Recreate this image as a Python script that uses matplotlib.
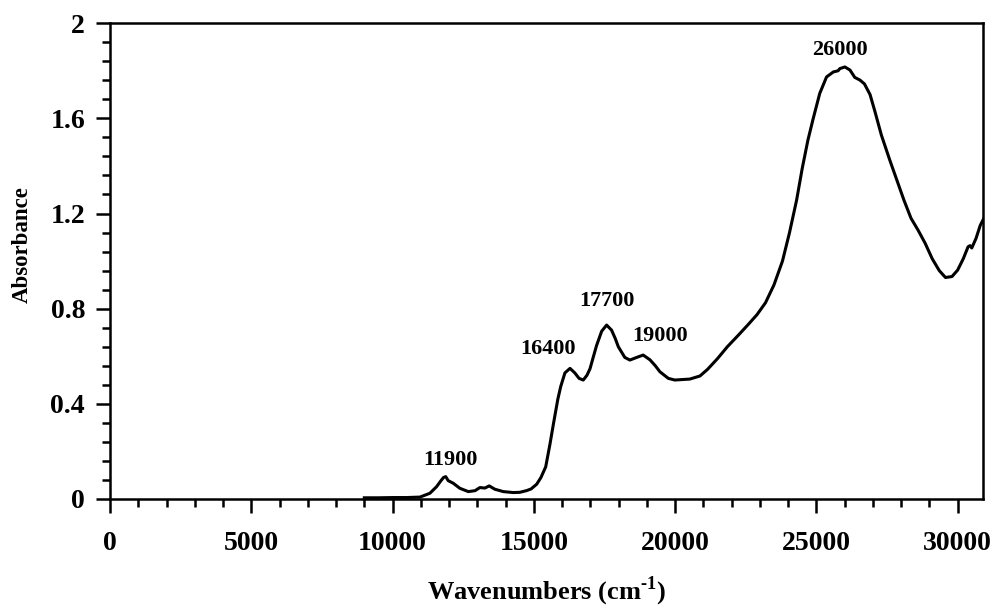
import matplotlib
matplotlib.use("Agg")
import matplotlib.pyplot as plt
from matplotlib.ticker import MultipleLocator

plt.rcParams["font.family"] = "Liberation Serif"
plt.rcParams["font.weight"] = "bold"
plt.rcParams["mathtext.fontset"] = "custom"
plt.rcParams["mathtext.rm"] = "Liberation Serif:bold"
plt.rcParams["mathtext.bf"] = "Liberation Serif:bold"

# absorption spectrum, wavenumber (cm-1) vs absorbance
wavenumber = [
    9000, 9500, 10000, 10500, 10970, 11320, 11560, 11700, 11800, 11880,
    11970, 12150, 12380, 12680, 12920, 13090, 13270, 13420, 13620, 13920,
    14270, 14500, 14740, 14900, 15100, 15250, 15420, 15570, 15700, 15850,
    15950, 16100, 16280, 16450, 16600, 16750, 16880, 16990, 17100, 17220,
    17400, 17575, 17750, 17880, 17990, 18220, 18400, 18640, 18870, 19110,
    19300, 19460, 19760, 19990, 20250, 20520, 20880, 21150, 21500, 21850,
    22250, 22600, 22900, 23200, 23500, 23800, 24050, 24300, 24500, 24700,
    24890, 25120, 25360, 25600, 25770, 25830, 26010, 26190, 26360, 26540,
    26700, 26900, 27070, 27300, 27600, 27850, 28100, 28350, 28600, 28850,
    29100, 29350, 29570, 29800, 30000, 30200, 30370, 30440, 30500, 30650,
    30800, 30950,
]
absorbance = [
    0.005, 0.005, 0.006, 0.006, 0.008, 0.024, 0.052, 0.075, 0.090, 0.094,
    0.077, 0.066, 0.045, 0.031, 0.035, 0.048, 0.046, 0.055, 0.041, 0.031,
    0.027, 0.028, 0.035, 0.042, 0.062, 0.090, 0.135, 0.230, 0.320, 0.420,
    0.472, 0.530, 0.549, 0.530, 0.507, 0.500, 0.520, 0.548, 0.595, 0.645,
    0.705, 0.731, 0.710, 0.675, 0.640, 0.595, 0.584, 0.595, 0.605, 0.585,
    0.560, 0.535, 0.507, 0.500, 0.502, 0.504, 0.517, 0.545, 0.590, 0.640,
    0.690, 0.735, 0.775, 0.825, 0.900, 1.000, 1.120, 1.256, 1.390, 1.508,
    1.600, 1.705, 1.774, 1.795, 1.800, 1.809, 1.816, 1.803, 1.772, 1.761,
    1.745, 1.700, 1.630, 1.530, 1.424, 1.340, 1.256, 1.180, 1.130, 1.075,
    1.010, 0.960, 0.931, 0.935, 0.962, 1.010, 1.060, 1.065, 1.055, 1.095,
    1.150, 1.185,
]

# band labels and where they sit
band_labels = ["11900", "16400", "17700", "19000", "26000"]
band_x = [12060, 15500, 17575, 19460, 25830]
band_y = [0.164, 0.632, 0.834, 0.687, 1.886]

fig = plt.figure(figsize=(9.95, 6.10), dpi=100)
ax = fig.add_axes([0.1106, 0.182, 0.8774, 0.780])

ax.plot(wavenumber, absorbance, color="black", lw=2.2, solid_joinstyle="round")

for lab, x, y in zip(band_labels, band_x, band_y):
    ax.text(x, y, lab, ha="center", va="center", fontsize=16, fontweight="bold")

ax.set_xlim(0, 30900)
ax.set_ylim(0, 2)
ax.xaxis.set_major_locator(MultipleLocator(5000))
ax.xaxis.set_minor_locator(MultipleLocator(1000))
ax.yaxis.set_major_locator(MultipleLocator(0.4))
ax.yaxis.set_minor_locator(MultipleLocator(0.08))
ax.yaxis.set_major_formatter(plt.FuncFormatter(lambda v, p: "0" if v == 0 else f"{v:g}"))

ax.tick_params(which="major", direction="out", length=10, width=1.8, labelsize=20, pad=13)
ax.tick_params(which="minor", direction="out", length=6, width=1.8)
ax.tick_params(axis="y", which="major", pad=8)
for s in ax.spines.values():
    s.set_linewidth(1.8)

ax.set_xlabel(r"Wavenumbers (cm$^{\text{-1}}$)", fontsize=19, fontweight="bold")
ax.xaxis.set_label_coords(0.5, -0.158)
ax.set_ylabel("Absorbance", fontsize=16.5, fontweight="bold")
ax.yaxis.set_label_coords(-0.088, 0.535)

fig.savefig("out.png", dpi=100)
